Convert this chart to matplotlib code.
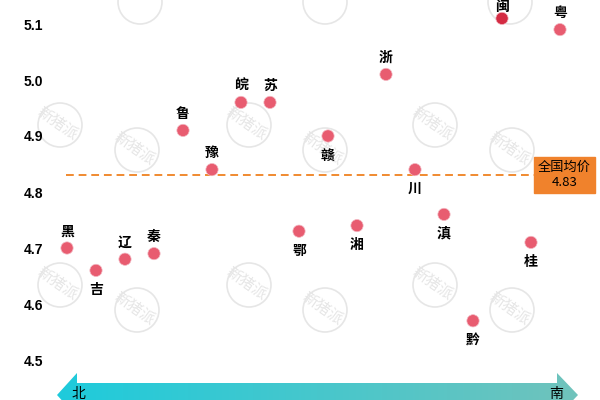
import numpy as np
import matplotlib.pyplot as plt
from matplotlib.patches import Polygon, Circle

plt.rcParams['font.family'] = ['Noto Sans CJK SC', 'DejaVu Sans']

provinces = ['黑', '吉', '辽', '秦', '鲁', '豫', '皖', '苏', '鄂', '赣',
             '湘', '浙', '川', '滇', '黔', '闽', '桂', '粤']
prices = [4.70, 4.66, 4.68, 4.69, 4.91, 4.84, 4.96, 4.96, 4.73, 4.90,
          4.74, 5.01, 4.84, 4.76, 4.57, 5.11, 4.71, 5.09]
label_above = [True, False, True, True, True, True, True, True, False, False,
               False, True, False, False, False, True, False, True]
national_avg = 4.83
yticks = [4.5, 4.6, 4.7, 4.8, 4.9, 5.0, 5.1]

fig = plt.figure(figsize=(6, 4), dpi=100)

# background overlay in pixel coords: watermarks + north-south arrow
bg = fig.add_axes([0, 0, 1, 1])
bg.set_xlim(0, 600)
bg.set_ylim(400, 0)
bg.axis('off')

wm_centers = [(60, 125), (249, 125), (435, 125), (137, 150), (325, 150), (512, 150),
              (60, 285), (249, 285), (435, 285), (137, 310), (325, 310), (512, 310)]
wm_top = [(140, 2), (325, 2), (510, 2)]
for cx, cy in wm_centers + wm_top:
    bg.add_patch(Circle((cx, cy), 22, fill=False, ec='#e6e6e6', lw=1.2))
for cx, cy in wm_centers:
    bg.text(cx - 3, cy - 2, '新猪派', rotation=-35, ha='center', va='center',
            fontsize=11, color='#e6e6e6')

arrow_pts = [(57, 395), (77, 373), (77, 383), (557, 383), (557, 373),
             (578, 395), (557, 417), (557, 407), (77, 407), (77, 417)]
arrow = Polygon(arrow_pts, closed=True, fc='none', ec='none')
bg.add_patch(arrow)
grad = np.linspace(0, 1, 256).reshape(1, -1)
c0 = np.array([0x1e, 0xcb, 0xdc]) / 255
c1 = np.array([0x70, 0xc3, 0xbc]) / 255
img = c0 + (c1 - c0) * grad[..., None]
im = bg.imshow(img, extent=(57, 578, 417, 373), aspect='auto', zorder=1)
im.set_clip_path(arrow)
bg.text(78, 394, '北', ha='center', va='center', fontsize=10, zorder=3)
bg.text(556, 394, '南', ha='center', va='center', fontsize=10, zorder=3)

# main chart
ax = fig.add_axes([50 / 600, 0, 550 / 600, 1])
ax.patch.set_alpha(0)
x = np.arange(len(provinces))
ax.set_xlim((50 - 67) / 29, (600 - 67) / 29)
ax.set_ylim(4.5 - 40 / 560, 5.1 + 24 / 560)

colors = ['#d42b43' if p == '闽' else '#e85c70' for p in provinces]
ax.scatter(x, prices, s=78, c=colors, edgecolors='#f3b9c3', linewidths=0.5, zorder=3)

for xi, p, name, up in zip(x, prices, provinces, label_above):
    if name == '闽':
        # squeezed against the top edge
        ax.annotate(name, (xi, 1.0), xycoords=('data', 'axes fraction'),
                    ha='center', va='top', fontsize=10, fontweight='bold', zorder=4)
        continue
    ax.annotate(name, (xi, p), xytext=(0, 7 if up else -9), textcoords='offset points',
                ha='center', va='bottom' if up else 'top', fontsize=10,
                fontweight='bold', zorder=4)

ax.plot([-0.05, 16.3], [national_avg, national_avg], ls=(0, (4, 2.5)),
        color='#f08a30', lw=1.4, zorder=2)
ax.text(17.15, national_avg, f'全国均价\n{national_avg:.2f}', ha='center', va='center',
        fontsize=9.5, linespacing=1.2,
        bbox=dict(boxstyle='square,pad=0.3', fc='#f0822c', ec='#f0822c'))

ax.set_yticks(yticks)
ax.set_yticklabels([f'{v:.1f}' for v in yticks], fontsize=10,
                   family='Liberation Sans', fontweight='bold')
ax.tick_params(axis='y', length=0, pad=5)
ax.set_xticks([])
for s in ax.spines.values():
    s.set_visible(False)

fig.savefig('out.png', dpi=100)
